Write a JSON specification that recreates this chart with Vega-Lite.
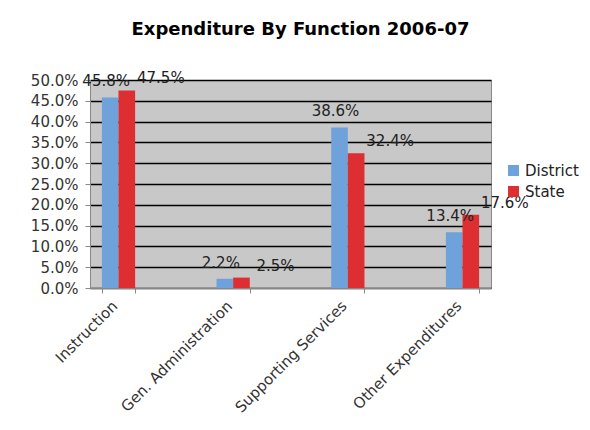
{
  "$schema": "https://vega.github.io/schema/vega-lite/v6.json",
  "autosize": {"type": "none"},
  "width": 401,
  "height": 208,
  "padding": {"left": 90, "top": 80, "right": 99, "bottom": 142},
  "background": "white",
  "title": {
    "text": "Expenditure By Function 2006-07",
    "font": "DejaVu Sans",
    "fontSize": 18,
    "fontWeight": "bold",
    "color": "#000000",
    "anchor": "middle",
    "dx": 10,
    "offset": 32
  },
  "config": {
    "view": {"fill": "#c8c8c8", "stroke": "#888888", "strokeWidth": 1},
    "font": "DejaVu Sans",
    "axis": {"labelFont": "DejaVu Sans"},
    "legend": {"labelFont": "DejaVu Sans"},
    "text": {"font": "DejaVu Sans"}
  },
  "data": {
    "values": [
      {"category": "Instruction", "series": "District", "value": 0.458},
      {"category": "Instruction", "series": "State", "value": 0.475},
      {"category": "Gen. Administration", "series": "District", "value": 0.022},
      {"category": "Gen. Administration", "series": "State", "value": 0.025},
      {"category": "Supporting Services", "series": "District", "value": 0.386},
      {"category": "Supporting Services", "series": "State", "value": 0.324},
      {"category": "Other Expenditures", "series": "District", "value": 0.134},
      {"category": "Other Expenditures", "series": "State", "value": 0.176}
    ]
  },
  "encoding": {
    "x": {
      "field": "category",
      "type": "nominal",
      "sort": null,
      "scale": {"paddingInner": 0.71, "paddingOuter": 0.1035},
      "axis": {
        "title": null,
        "labelAngle": -45,
        "labelFontSize": 15,
        "labelColor": "#333333",
        "labelPadding": 5,
        "labelOffset": -9,
        "domainColor": "#888888",
        "tickColor": "#888888",
        "tickBand": "extent",
        "tickSize": 5
      }
    },
    "xOffset": {"field": "series", "type": "nominal", "scale": {"paddingInner": 0, "paddingOuter": 0}},
    "y": {
      "field": "value",
      "type": "quantitative",
      "scale": {"domain": [0, 0.5], "nice": false},
      "axis": {
        "title": null,
        "format": ".1%",
        "values": [0, 0.05, 0.1, 0.15, 0.2, 0.25, 0.3, 0.35, 0.4, 0.45, 0.5],
        "labelFontSize": 15,
        "labelColor": "#333333",
        "grid": true,
        "gridColor": "#000000",
        "gridWidth": 1.5,
        "gridOpacity": 1,
        "domainColor": "#888888",
        "tickColor": "#888888",
        "tickSize": 5,
        "labelPadding": 7
      }
    }
  },
  "layer": [
    {
      "mark": {"type": "bar"},
      "encoding": {
        "color": {
          "field": "series",
          "type": "nominal",
          "scale": {"domain": ["District", "State"], "range": ["#6fa2da", "#dd2e32"]},
          "legend": {
            "title": null,
            "orient": "none",
            "legendX": 416,
            "legendY": 83,
            "symbolType": "square",
            "symbolSize": 120,
            "symbolStrokeWidth": 0,
            "symbolOpacity": 1,
            "labelFontSize": 15,
            "labelColor": "#222222",
            "rowPadding": 5,
            "labelOffset": 4
          }
        }
      }
    },
    {
      "transform": [{"filter": "datum.series === 'District'"}],
      "mark": {"type": "text", "fontSize": 15, "color": "#222222", "dy": -8, "dx": -4, "baseline": "bottom"},
      "encoding": {"text": {"field": "value", "type": "quantitative", "format": ".1%"}}
    },
    {
      "transform": [{"filter": "datum.series === 'State'"}],
      "mark": {"type": "text", "fontSize": 15, "color": "#222222", "dy": -4, "dx": 34, "baseline": "bottom"},
      "encoding": {"text": {"field": "value", "type": "quantitative", "format": ".1%"}}
    }
  ]
}
